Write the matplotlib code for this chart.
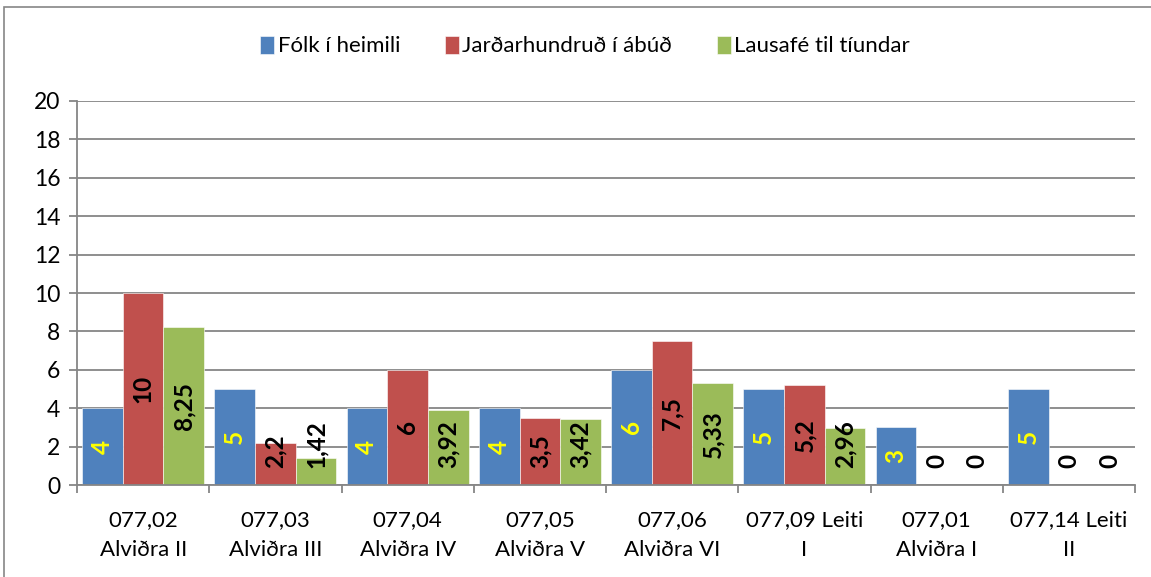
import numpy as np
import matplotlib.pyplot as plt
from matplotlib.patches import Rectangle

plt.rcParams['font.family'] = ['Lato', 'DejaVu Sans']

# Data
categories = ['077,02\nAlviðra II', '077,03\nAlviðra III', '077,04\nAlviðra IV',
              '077,05\nAlviðra V', '077,06\nAlviðra VI', '077,09 Leiti\nI',
              '077,01\nAlviðra I', '077,14 Leiti\nII']
folk = [4, 5, 4, 4, 6, 5, 3, 5]
jard = [10, 2.2, 6, 3.5, 7.5, 5.2, 0, 0]
laus = [8.25, 1.42, 3.92, 3.42, 5.33, 2.96, 0, 0]
series_names = ['Fólk í heimili', 'Jarðarhundruð í ábúð', 'Lausafé til tíundar']
colors = ['#4F81BD', '#C0504D', '#9BBB59']
label_colors = ['#FFFF00', 'black', 'black']

fig = plt.figure(figsize=(11.51, 5.77), dpi=100)
ax = fig.add_axes([77/1151, 1-485/577, (1135-77)/1151, (485-101)/577])

# outer chart frame (cut off at right and bottom)
fig.patches.append(Rectangle((4/1151, -0.1), 1.2, 1.1 - 7/577, transform=fig.transFigure,
                             fill=False, edgecolor='#868686', linewidth=1.2))

x = np.arange(len(categories))
w = 0.308
texts = []
for k, vals in enumerate([folk, jard, laus]):
    pos = x + (k - 1) * w
    ax.bar(pos, vals, width=w, color=colors[k], edgecolor='white', linewidth=0.4,
           label=series_names[k], zorder=2)
    for p, v in zip(pos, vals):
        t = ax.text(p, v / 2, ('%g' % v).replace('.', ','), rotation=90,
                    ha='center', va='center', fontsize=17.5, fontweight='bold',
                    color=label_colors[k], zorder=3)
        texts.append(t)

ax.set_xlim(-0.5, len(categories) - 0.5)
ax.set_ylim(0, 20)
ax.set_yticks(np.arange(0, 21, 2))
ax.yaxis.grid(True, color='#868686', linewidth=1.3, zorder=0)
ax.set_axisbelow(True)

ax.set_xticks(x)
ax.set_xticklabels(categories, fontsize=16, linespacing=1.6)
ax.set_xticks(np.arange(-0.5, len(categories)), minor=True)
ax.tick_params(axis='x', which='major', length=0, pad=18)
ax.tick_params(axis='x', which='minor', length=6, color='#868686', width=1.3)
ax.tick_params(axis='y', length=6, color='#868686', width=1.3, labelsize=16.5, pad=6)

for s in ['top', 'right']:
    ax.spines[s].set_visible(False)
for s in ['left', 'bottom']:
    ax.spines[s].set_color('#868686')
    ax.spines[s].set_linewidth(1.3)

ax.legend(loc='center', bbox_to_anchor=(585/1151, 1-46/577), bbox_transform=fig.transFigure,
          ncol=3, frameon=False, fontsize=16, handlelength=0.65, handleheight=0.9,
          handletextpad=0.15, columnspacing=2.0)

# keep labels off the baseline, like the original
fig.canvas.draw()
y0 = ax.transData.transform((0, 0))[1]
for t in texts:
    bb = t.get_window_extent()
    if bb.y0 < y0 + 17:
        dy = y0 + 17 - bb.y0
        xd, yd = t.get_position()
        ydisp = ax.transData.transform((xd, yd))[1] + dy
        t.set_position((xd, ax.transData.inverted().transform((0, ydisp))[1]))

plt.savefig('out.png', dpi=100)
